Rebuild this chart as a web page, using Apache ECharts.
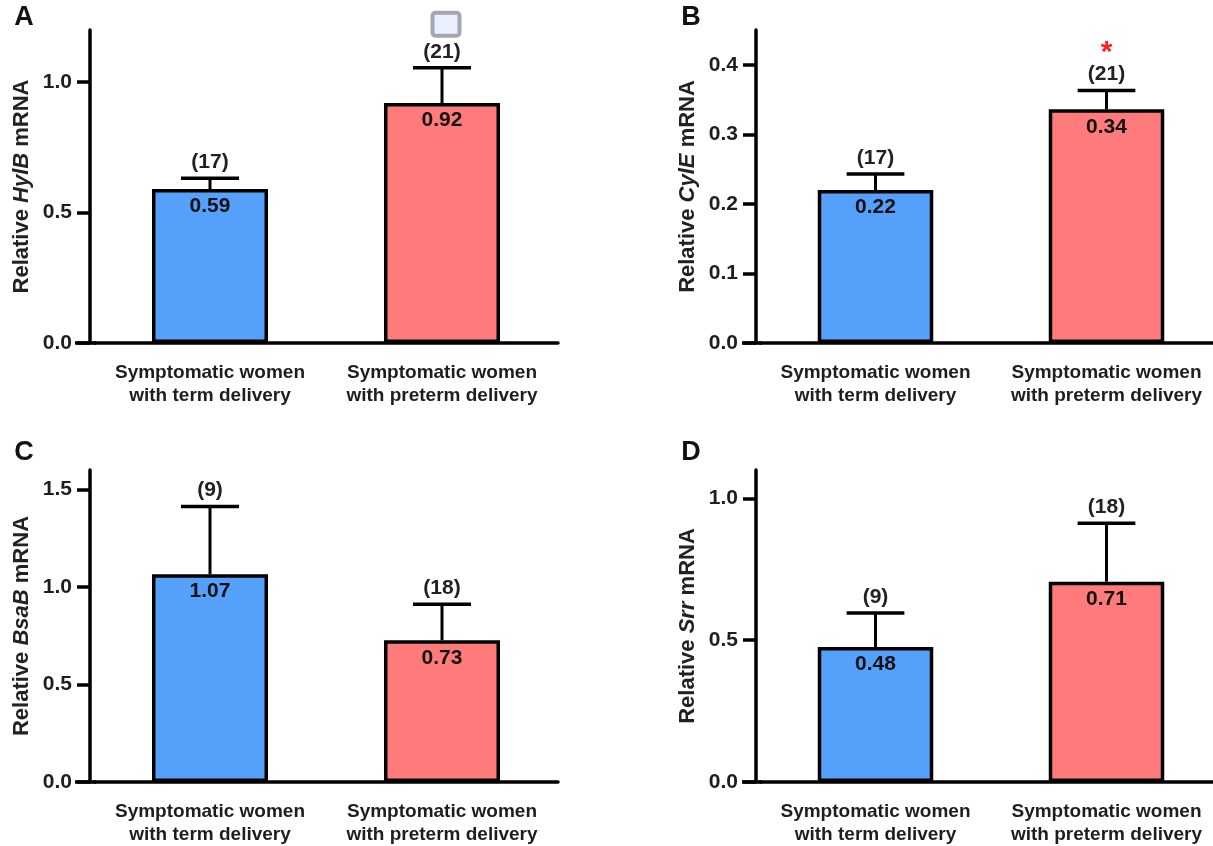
<!DOCTYPE html>
<html><head><meta charset="utf-8">
<script src="https://cdn.jsdelivr.net/npm/echarts@6/dist/echarts.min.js"></script>
<style>html,body{margin:0;padding:0;background:#fff;overflow:hidden}#c{width:1232px;height:846px}</style>
</head><body><div id="c"></div>
<script>
// ---- data ----
const categories = ['Symptomatic women\nwith term delivery', 'Symptomatic women\nwith preterm delivery'];
const panelLetters = ['A', 'B', 'C', 'D'];
const genes = ['HylB', 'CylE', 'BsaB', 'Srr'];

const meanA = [0.59, 0.92];
const semA = [0.042, 0.135];
const nA = [17, 21];

const meanB = [0.22, 0.336];
const semB = [0.023, 0.027];
const nB = [17, 21];

const meanC = [1.066, 0.727];
const semC = [0.347, 0.184];
const nC = [9, 18];

const meanD = [0.476, 0.706];
const semD = [0.12, 0.206];
const nD = [9, 18];

const yMaxes = [1.2, 0.45, 1.6, 1.1];
const ticksA = [0, 0.5, 1.0];
const ticksB = [0, 0.1, 0.2, 0.3, 0.4];
const ticksC = [0, 0.5, 1.0, 1.5];
const ticksD = [0, 0.5, 1.0];
const sigMarks = [['', 'box'], ['', '*'], ['', ''], ['', '']];

// ---- styling / layout ----
const barColors = ['#55a0fa', '#ff7b7b'];
const FONT = "'Liberation Sans', Arial, Helvetica, sans-serif";
const layout = [
  {left: 94, top: 30, width: 464, height: 313, axisStart: 75, letterX: 24, letterY: 18},
  {left: 760, top: 30, width: 462, height: 313, axisStart: 742, letterX: 691, letterY: 18},
  {left: 94, top: 470, width: 464, height: 312, axisStart: 75, letterX: 24, letterY: 453},
  {left: 760, top: 470, width: 462, height: 312, axisStart: 742, letterX: 691, letterY: 453}
];
const panels = [
  {mean: meanA, sem: semA, n: nA, ticks: ticksA},
  {mean: meanB, sem: semB, n: nB, ticks: ticksB},
  {mean: meanC, sem: semC, n: nC, ticks: ticksC},
  {mean: meanD, sem: semD, n: nD, ticks: ticksD}
];
const LW = 3.5;

const grid = [], xAxis = [], yAxis = [], series = [], graphic = [];
panels.forEach((p, i) => {
  const L = layout[i];
  grid.push({left: L.left, top: L.top, width: L.width, height: L.height, containLabel: false});
  xAxis.push({
    type: 'category', gridIndex: i, data: categories,
    axisLine: {lineStyle: {color: '#000', width: LW}},
    axisTick: {alignWithLabel: true, length: 12, lineStyle: {color: '#000', width: LW}},
    axisLabel: {interval: 0, margin: 18, fontSize: 19, fontWeight: 'bold', color: '#1e1e1e', lineHeight: 23, fontFamily: FONT},
    splitLine: {show: false}
  });
  yAxis.push({
    type: 'value', gridIndex: i, min: 0, max: yMaxes[i], offset: 4,
    axisLine: {show: true, onZero: false, lineStyle: {color: '#000', width: LW}},
    axisTick: {show: true, length: 13, customValues: p.ticks, lineStyle: {color: '#000', width: LW}},
    axisLabel: {customValues: p.ticks, formatter: v => v.toFixed(1), margin: 18, fontSize: 21, fontWeight: 'bold', color: '#1e1e1e', fontFamily: FONT},
    splitLine: {show: false},
    name: 'Relative {i|' + genes[i] + '} mRNA',
    nameLocation: 'middle', nameGap: 57,
    nameTextStyle: {fontSize: 22, fontWeight: 'bold', color: '#222', fontFamily: FONT,
      rich: {i: {fontSize: 22, fontWeight: 'bold', fontStyle: 'italic', color: '#222', fontFamily: FONT}}}
  });
  series.push({
    type: 'bar', xAxisIndex: i, yAxisIndex: i, barWidth: '50%',
    data: p.mean.map((v, j) => ({value: v, itemStyle: {color: barColors[j], borderColor: '#000', borderWidth: LW}})),
    label: {show: true, position: 'insideTop', distance: 7, formatter: q => q.value.toFixed(2),
      fontSize: 21, fontWeight: 'bold', color: '#111', fontFamily: FONT},
    z: 2
  });
  series.push({
    type: 'custom', xAxisIndex: i, yAxisIndex: i, z: 5,
    data: p.mean.map((m, j) => [j, m, m + p.sem[j]]),
    renderItem: (params, api) => {
      const j = params.dataIndex;
      const base = api.coord([api.value(0), api.value(1)]);
      const top = api.coord([api.value(0), api.value(2)]);
      const band = api.size([1, 0])[0];
      const hw = band * 0.125;
      const children = [
        {type: 'line', shape: {x1: base[0], y1: base[1], x2: top[0], y2: top[1]}, style: {stroke: '#000', lineWidth: 3}},
        {type: 'line', shape: {x1: top[0] - hw, y1: top[1], x2: top[0] + hw, y2: top[1]}, style: {stroke: '#000', lineWidth: LW}},
        {type: 'text', x: top[0], y: top[1] - 16, style: {text: '(' + p.n[j] + ')', align: 'center', verticalAlign: 'middle',
          fontSize: 21, fontWeight: 'bold', fontFamily: FONT, fill: '#222'}}
      ];
      const s = sigMarks[i][j];
      if (s === 'box') {
        children.push({type: 'rect', shape: {x: top[0] + 4 - 13.5, y: top[1] - 43 - 12, width: 27, height: 23, r: 3},
          style: {fill: '#e9effd', stroke: '#a3a7b3', lineWidth: 4}});
      } else if (s === '*') {
        children.push({type: 'text', x: top[0], y: top[1] - 38, style: {text: '*', align: 'center', verticalAlign: 'middle',
          fontSize: 30, fontWeight: 'bold', fontFamily: FONT, fill: '#ff1f1f'}});
      }
      return {type: 'group', children};
    }
  });
  const yb = L.top + L.height;
  graphic.push({type: 'line', shape: {x1: L.axisStart, y1: yb, x2: L.left + 2, y2: yb}, style: {stroke: '#000', lineWidth: LW}, z: 10});
  graphic.push({type: 'text', x: L.letterX, y: L.letterY, style: {text: panelLetters[i], align: 'center', verticalAlign: 'middle',
    fontSize: 27, fontWeight: 'bold', fontFamily: FONT, fill: '#111'}});
});

const chart = echarts.init(document.getElementById('c'), null, {renderer: 'canvas'});
chart.setOption({animation: false, backgroundColor: '#fff', grid, xAxis, yAxis, series, graphic});
</script>
</body></html>
